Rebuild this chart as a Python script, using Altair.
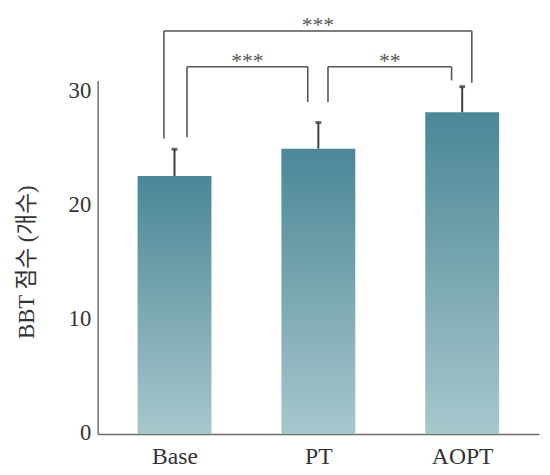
import altair as alt
import pandas as pd

# ---- data ----
CATEGORIES = ["Base", "PT", "AOPT"]
MEANS = [22.7, 25.1, 28.3]
SDS = [2.35, 2.3, 2.25]

# significance brackets
BR_FROM = ["Base", "Base", "PT"]
BR_TO = ["AOPT", "PT", "AOPT"]
BR_TOP = [35.45, 32.3, 32.3]
BR_LEFT_END = [26.0, 26.1, 29.2]
BR_RIGHT_END = [30.9, 29.2, 31.1]
BR_LABEL = ["***", "***", "**"]

# ---- layout / style ----
W, H = 448, 359
UNIT = W / 3.0
BR_LEFT_DX = [-11, 13, 10]     # px offsets from bar centre
BR_RIGHT_DX = [10, -11, -11]
SERIF = "Liberation Serif, 'Noto Sans CJK KR', serif"

idx = {c: i for i, c in enumerate(CATEGORIES)}
bars = pd.DataFrame({
    "cat": CATEGORIES,
    "i": list(range(len(CATEGORIES))),
    "mean": MEANS,
    "top": [m + s for m, s in zip(MEANS, SDS)],
})

segs = []
labels = []
for k in range(len(BR_FROM)):
    xl = idx[BR_FROM[k]] + BR_LEFT_DX[k] / UNIT
    xr = idx[BR_TO[k]] + BR_RIGHT_DX[k] / UNIT
    t = BR_TOP[k]
    segs.append({"x": xl, "x2": xl, "y": BR_LEFT_END[k], "y2": t})
    segs.append({"x": xl, "x2": xr, "y": t, "y2": t})
    segs.append({"x": xr, "x2": xr, "y": t, "y2": BR_RIGHT_END[k]})
    labels.append({"x": (xl + xr) / 2, "y": t, "label": BR_LABEL[k]})
segs = pd.DataFrame(segs)
labels = pd.DataFrame(labels)

xscale = alt.Scale(domain=[-0.5, 2.5], nice=False, zero=False)
yscale = alt.Scale(domain=[0, 31.1], nice=False)

label_expr = "[" + ",".join(f"'{c}'" for c in CATEGORIES) + "][datum.value]"

xenc = alt.X("i:Q", scale=xscale, title=None,
             axis=alt.Axis(values=[0, 1, 2], labelExpr=label_expr, ticks=False, grid=False,
                           domainColor="#6e6e6e", domainWidth=1.5, labelFont=SERIF,
                           labelFontSize=24, labelColor="#333", labelPadding=11))
yenc = alt.Y("mean:Q", scale=yscale, title="BBT 점수 (개수)",
             axis=alt.Axis(values=[0, 10, 20, 30], ticks=False, grid=False,
                           domainColor="#6e6e6e", domainWidth=1.5, labelFont=SERIF,
                           labelFontSize=23, labelColor="#333", labelPadding=7,
                           labelOffset=-2,
                           titleFont=SERIF, titleFontSize=23, titleColor="#333",
                           titleFontWeight="normal", titleX=-72, titleY=184,
                           titleBaseline="middle", titleAngle=270))

gradient = alt.Gradient(
    gradient="linear", x1=0, y1=0, x2=0, y2=1,
    stops=[alt.GradientStop(color="#4a8797", offset=0),
           alt.GradientStop(color="#a8c7cd", offset=1)],
)

bar = alt.Chart(bars).mark_bar(size=75, color=gradient).encode(x=xenc, y=yenc)

err = alt.Chart(bars).mark_rule(color="#3d3d3d", strokeWidth=2).encode(
    x=alt.X("i:Q", scale=xscale), y=alt.Y("mean:Q", scale=yscale), y2="top:Q")

cap = alt.Chart(bars).mark_tick(color="#2d2d2d", orient="horizontal", size=6, thickness=3).encode(
    x=alt.X("i:Q", scale=xscale), y=alt.Y("top:Q", scale=yscale))

brk = alt.Chart(segs).mark_rule(color="#555", strokeWidth=1.6).encode(
    x=alt.X("x:Q", scale=xscale), x2="x2:Q",
    y=alt.Y("y:Q", scale=yscale), y2="y2:Q")

txt = alt.Chart(labels).mark_text(font=SERIF, fontSize=22, color="#555",
                                  baseline="alphabetic", dy=1).encode(
    x=alt.X("x:Q", scale=xscale), y=alt.Y("y:Q", scale=yscale), text="label:N")

chart = alt.layer(bar, err, cap, brk, txt).properties(
    width=W, height=H, background="white",
    autosize=alt.AutoSizeParams(type="none"),
    padding={"left": 91, "top": 70, "right": 3, "bottom": 38}
).configure_view(stroke=None)

chart.save("out.html", embed_options={"renderer": "svg", "actions": False})
